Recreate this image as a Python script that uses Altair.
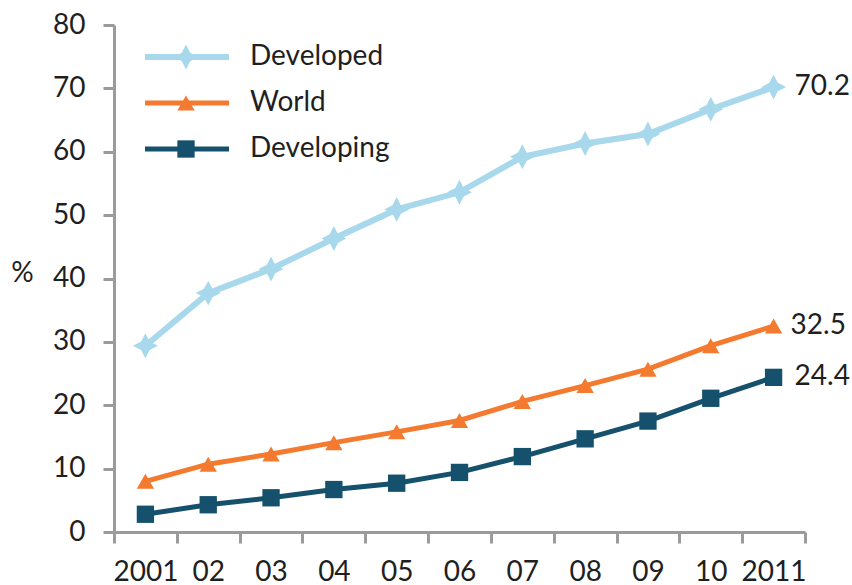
import altair as alt
import pandas as pd

# Internet users per 100 inhabitants, 2001-2011
years = ["2001", "02", "03", "04", "05", "06", "07", "08", "09", "10", "2011"]
developed = [29.4, 37.7, 41.5, 46.3, 50.9, 53.6, 59.2, 61.3, 62.8, 66.7, 70.2]
world = [8.0, 10.7, 12.3, 14.1, 15.8, 17.6, 20.6, 23.1, 25.7, 29.4, 32.5]
developing = [2.8, 4.3, 5.4, 6.7, 7.7, 9.4, 11.9, 14.7, 17.5, 21.1, 24.4]

series_names = ["Developed", "World", "Developing"]
series_values = [developed, world, developing]
series_colors = ["#A8D8EB", "#F37A2E", "#15516C"]
STAR = "M0,-1 L0.34,-0.34 L1,0 L0.34,0.34 L0,1 L-0.34,0.34 L-1,0 L-0.34,-0.34 Z"
series_shapes = [STAR, "triangle-up", "square"]
series_sizes = [620, 300, 300]
series_widths = [6, 5, 5]
label_dx = [21, 17, 21]

FONT = "Lato"
TEXT = "#1F1F1F"
AXIS = "#9B9B9B"

x_enc = alt.X(
    "year:N",
    sort=years,
    bandPosition=0.5,
    scale=alt.Scale(type="band", domain=years, paddingInner=0, paddingOuter=0),
    axis=alt.Axis(
        title=None,
        tickBand="extent",
        labelAngle=0,
        labelPadding=15,
        labelFontSize=28,
    ),
)
y_enc = alt.Y(
    "value:Q",
    scale=alt.Scale(domain=[0, 80], nice=False),
    axis=alt.Axis(
        values=list(range(0, 81, 10)),
        title="%",
        titleAngle=0,
        titleAlign="center",
        titleBaseline="middle",
        titleX=-92,
        titleY=248,
        titleFontSize=28,
        titleFontWeight="normal",
        labelPadding=18,
        labelFontSize=28,
        grid=False,
    ),
)

layers = []
for name, vals, col, shp, sz, sw, dx in zip(
    series_names, series_values, series_colors, series_shapes, series_sizes, series_widths, label_dx
):
    df = pd.DataFrame({"year": years, "value": vals, "series": name})
    base = alt.Chart(df).encode(x=x_enc, y=y_enc)
    layers.append(base.mark_line(color=col, strokeWidth=sw))
    layers.append(base.mark_point(shape=shp, size=sz, filled=True, color=col, opacity=1))
    last = df.iloc[[-1]]
    layers.append(
        alt.Chart(last)
        .mark_text(align="left", baseline="middle", dx=dx, fontSize=28, font=FONT, color=TEXT)
        .encode(x=x_enc, y=y_enc, text=alt.Text("value:Q", format=".1f"))
    )

# Legend in the upper-left corner of the plot
legend_rows = [32, 78, 124]
for name, col, shp, sz, sw, ly in zip(
    series_names, series_colors, series_shapes, series_sizes, series_widths, legend_rows
):
    ldf = pd.DataFrame({"series": [name]})
    lc = alt.Chart(ldf)
    layers.append(
        lc.mark_rule(color=col, strokeWidth=sw).encode(
            x=alt.value(31), x2=alt.value(115), y=alt.value(ly)
        )
    )
    layers.append(
        lc.mark_point(shape=shp, size=sz, filled=True, color=col, opacity=1).encode(
            x=alt.value(72), y=alt.value(ly)
        )
    )
    layers.append(
        lc.mark_text(align="left", baseline="middle", fontSize=28, font=FONT, color=TEXT).encode(
            x=alt.value(136), y=alt.value(ly), text="series:N"
        )
    )

chart = (
    alt.layer(*layers)
    .properties(
        width=691,
        height=507,
        autosize=alt.AutoSizeParams(type="none"),
        padding={"left": 114, "top": 25, "right": 47, "bottom": 53},
        background="white",
    )
    .configure_view(stroke=None)
    .configure_axis(
        domainColor=AXIS,
        domainWidth=3,
        tickColor=AXIS,
        tickWidth=3,
        tickSize=11,
        labelFont=FONT,
        titleFont=FONT,
        labelColor=TEXT,
        titleColor=TEXT,
    )
)

chart.save("out.html", embed_options={"renderer": "svg", "actions": False})
